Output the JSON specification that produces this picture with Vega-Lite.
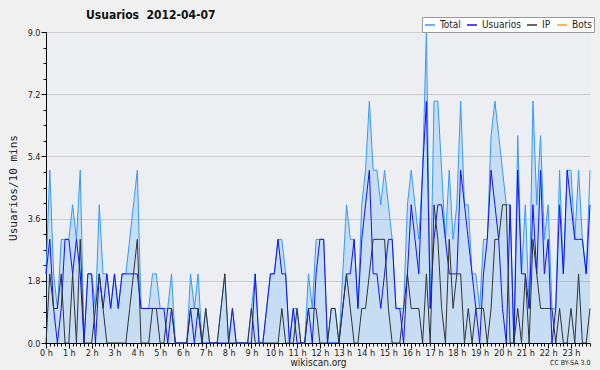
{
  "$schema": "https://vega.github.io/schema/vega-lite/v6.json",
  "width": 544,
  "height": 311,
  "autosize": {"type": "none"},
  "padding": {"left": 46, "top": 32, "right": 10, "bottom": 27},
  "background": "#f0f0f0",
  "config": {
    "view": {"fill": "#eceef1", "stroke": null},
    "font": "'DejaVu Sans Condensed', 'DejaVu Sans'",
    "axis": {"domainColor": "#000", "tickColor": "#000", "labelColor": "#222", "labelFontSize": 9, "titleColor": "#222", "titleFontWeight": "normal"}
  },
  "title": {"text": "Usuarios\u00a0 2012-04-07", "anchor": "start", "frame": "group", "dx": 40, "offset": -5, "fontSize": 12, "fontWeight": "bold", "color": "#111", "font": "'DejaVu Sans Condensed', 'DejaVu Sans'"},
  "data": {"values": [
    {"i":0,"Total":2,"Usuarios":2,"IP":0},{"i":1,"Total":5,"Usuarios":3,"IP":2},{"i":2,"Total":2,"Usuarios":1,"IP":1},{"i":3,"Total":1,"Usuarios":0,"IP":1},{"i":4,"Total":3,"Usuarios":1,"IP":2},{"i":5,"Total":3,"Usuarios":3,"IP":0},
    {"i":6,"Total":3,"Usuarios":3,"IP":0},{"i":7,"Total":4,"Usuarios":2,"IP":2},{"i":8,"Total":3,"Usuarios":3,"IP":0},{"i":9,"Total":5,"Usuarios":2,"IP":3},{"i":10,"Total":0,"Usuarios":0,"IP":0},{"i":11,"Total":2,"Usuarios":2,"IP":0},
    {"i":12,"Total":2,"Usuarios":2,"IP":0},{"i":13,"Total":1,"Usuarios":0,"IP":1},{"i":14,"Total":4,"Usuarios":2,"IP":2},{"i":15,"Total":2,"Usuarios":1,"IP":1},{"i":16,"Total":2,"Usuarios":2,"IP":0},{"i":17,"Total":1,"Usuarios":1,"IP":0},
    {"i":18,"Total":2,"Usuarios":2,"IP":0},{"i":19,"Total":1,"Usuarios":1,"IP":0},{"i":20,"Total":2,"Usuarios":2,"IP":0},{"i":21,"Total":2,"Usuarios":2,"IP":0},{"i":22,"Total":3,"Usuarios":2,"IP":1},{"i":23,"Total":4,"Usuarios":2,"IP":2},
    {"i":24,"Total":5,"Usuarios":2,"IP":3},{"i":25,"Total":1,"Usuarios":1,"IP":0},{"i":26,"Total":1,"Usuarios":1,"IP":0},{"i":27,"Total":1,"Usuarios":1,"IP":0},{"i":28,"Total":2,"Usuarios":1,"IP":1},{"i":29,"Total":2,"Usuarios":1,"IP":1},
    {"i":30,"Total":1,"Usuarios":1,"IP":0},{"i":31,"Total":1,"Usuarios":1,"IP":0},{"i":32,"Total":1,"Usuarios":0,"IP":1},{"i":33,"Total":2,"Usuarios":1,"IP":1},{"i":34,"Total":0,"Usuarios":0,"IP":0},{"i":35,"Total":0,"Usuarios":0,"IP":0},
    {"i":36,"Total":0,"Usuarios":0,"IP":0},{"i":37,"Total":0,"Usuarios":0,"IP":0},{"i":38,"Total":2,"Usuarios":1,"IP":1},{"i":39,"Total":1,"Usuarios":0,"IP":1},{"i":40,"Total":2,"Usuarios":1,"IP":1},{"i":41,"Total":0,"Usuarios":0,"IP":0},
    {"i":42,"Total":1,"Usuarios":0,"IP":1},{"i":43,"Total":0,"Usuarios":0,"IP":0},{"i":44,"Total":0,"Usuarios":0,"IP":0},{"i":45,"Total":0,"Usuarios":0,"IP":0},{"i":46,"Total":1,"Usuarios":0,"IP":1},{"i":47,"Total":2,"Usuarios":0,"IP":2},
    {"i":48,"Total":0,"Usuarios":0,"IP":0},{"i":49,"Total":1,"Usuarios":1,"IP":0},{"i":50,"Total":0,"Usuarios":0,"IP":0},{"i":51,"Total":0,"Usuarios":0,"IP":0},{"i":52,"Total":0,"Usuarios":0,"IP":0},{"i":53,"Total":0,"Usuarios":0,"IP":0},
    {"i":54,"Total":1,"Usuarios":0,"IP":1},{"i":55,"Total":2,"Usuarios":2,"IP":0},{"i":56,"Total":0,"Usuarios":0,"IP":0},{"i":57,"Total":0,"Usuarios":0,"IP":0},{"i":58,"Total":1,"Usuarios":1,"IP":0},{"i":59,"Total":2,"Usuarios":2,"IP":0},
    {"i":60,"Total":2,"Usuarios":2,"IP":0},{"i":61,"Total":3,"Usuarios":3,"IP":0},{"i":62,"Total":3,"Usuarios":2,"IP":1},{"i":63,"Total":2,"Usuarios":2,"IP":0},{"i":64,"Total":0,"Usuarios":0,"IP":0},{"i":65,"Total":1,"Usuarios":1,"IP":0},
    {"i":66,"Total":1,"Usuarios":0,"IP":1},{"i":67,"Total":0,"Usuarios":0,"IP":0},{"i":68,"Total":0,"Usuarios":0,"IP":0},{"i":69,"Total":2,"Usuarios":1,"IP":1},{"i":70,"Total":1,"Usuarios":0,"IP":1},{"i":71,"Total":3,"Usuarios":2,"IP":1},
    {"i":72,"Total":3,"Usuarios":3,"IP":0},{"i":73,"Total":3,"Usuarios":3,"IP":0},{"i":74,"Total":0,"Usuarios":0,"IP":0},{"i":75,"Total":1,"Usuarios":0,"IP":1},{"i":76,"Total":1,"Usuarios":0,"IP":1},{"i":77,"Total":0,"Usuarios":0,"IP":0},
    {"i":78,"Total":2,"Usuarios":1,"IP":1},{"i":79,"Total":4,"Usuarios":2,"IP":2},{"i":80,"Total":3,"Usuarios":2,"IP":1},{"i":81,"Total":3,"Usuarios":3,"IP":0},{"i":82,"Total":1,"Usuarios":1,"IP":0},{"i":83,"Total":4,"Usuarios":3,"IP":1},
    {"i":84,"Total":5,"Usuarios":4,"IP":1},{"i":85,"Total":7,"Usuarios":5,"IP":2},{"i":86,"Total":5,"Usuarios":2,"IP":3},{"i":87,"Total":5,"Usuarios":2,"IP":3},{"i":88,"Total":4,"Usuarios":1,"IP":3},{"i":89,"Total":5,"Usuarios":2,"IP":3},
    {"i":90,"Total":4,"Usuarios":3,"IP":1},{"i":91,"Total":3,"Usuarios":3,"IP":0},{"i":92,"Total":1,"Usuarios":1,"IP":0},{"i":93,"Total":1,"Usuarios":1,"IP":0},{"i":94,"Total":1,"Usuarios":0,"IP":1},{"i":95,"Total":4,"Usuarios":2,"IP":2},
    {"i":96,"Total":5,"Usuarios":4,"IP":1},{"i":97,"Total":4,"Usuarios":3,"IP":1},{"i":98,"Total":3,"Usuarios":2,"IP":1},{"i":99,"Total":5,"Usuarios":5,"IP":0},{"i":100,"Total":9,"Usuarios":7,"IP":2},{"i":101,"Total":1,"Usuarios":1,"IP":0},
    {"i":102,"Total":7,"Usuarios":3,"IP":4},{"i":103,"Total":7,"Usuarios":4,"IP":3},{"i":104,"Total":5,"Usuarios":4,"IP":1},{"i":105,"Total":3,"Usuarios":3,"IP":0},{"i":106,"Total":5,"Usuarios":2,"IP":3},{"i":107,"Total":3,"Usuarios":2,"IP":1},
    {"i":108,"Total":4,"Usuarios":2,"IP":2},{"i":109,"Total":7,"Usuarios":5,"IP":2},{"i":110,"Total":4,"Usuarios":4,"IP":0},{"i":111,"Total":4,"Usuarios":3,"IP":1},{"i":112,"Total":2,"Usuarios":2,"IP":0},{"i":113,"Total":2,"Usuarios":1,"IP":1},
    {"i":114,"Total":1,"Usuarios":0,"IP":1},{"i":115,"Total":3,"Usuarios":2,"IP":1},{"i":116,"Total":3,"Usuarios":3,"IP":0},{"i":117,"Total":6,"Usuarios":5,"IP":1},{"i":118,"Total":7,"Usuarios":4,"IP":3},{"i":119,"Total":6,"Usuarios":3,"IP":3},
    {"i":120,"Total":5,"Usuarios":1,"IP":4},{"i":121,"Total":4,"Usuarios":0,"IP":4},{"i":122,"Total":4,"Usuarios":4,"IP":0},{"i":123,"Total":0,"Usuarios":0,"IP":0},{"i":124,"Total":6,"Usuarios":5,"IP":1},{"i":125,"Total":2,"Usuarios":2,"IP":0},
    {"i":126,"Total":4,"Usuarios":2,"IP":2},{"i":127,"Total":1,"Usuarios":1,"IP":0},{"i":128,"Total":7,"Usuarios":4,"IP":3},{"i":129,"Total":4,"Usuarios":2,"IP":2},{"i":130,"Total":6,"Usuarios":5,"IP":1},{"i":131,"Total":3,"Usuarios":2,"IP":1},
    {"i":132,"Total":4,"Usuarios":3,"IP":1},{"i":133,"Total":1,"Usuarios":0,"IP":1},{"i":134,"Total":1,"Usuarios":1,"IP":0},{"i":135,"Total":5,"Usuarios":4,"IP":1},{"i":136,"Total":2,"Usuarios":2,"IP":0},{"i":137,"Total":5,"Usuarios":5,"IP":0},
    {"i":138,"Total":5,"Usuarios":4,"IP":1},{"i":139,"Total":3,"Usuarios":3,"IP":0},{"i":140,"Total":5,"Usuarios":3,"IP":2},{"i":141,"Total":3,"Usuarios":3,"IP":0},{"i":142,"Total":2,"Usuarios":2,"IP":0},{"i":143,"Total":5,"Usuarios":4,"IP":1}
  ]},
  "layer": [
    {
      "mark": {"type": "area", "color": "#3399ff", "opacity": 0.2},
      "encoding": {
        "x": {"field": "i", "type": "quantitative", "scale": {"domain": [0, 143], "nice": false, "zero": false},
              "axis": {"orient": "bottom", "values": [0,6,12,18,24,30,36,42,48,54,60,66,72,78,84,90,96,102,108,114,120,126,132,138],
                       "labelExpr": "(datum.value/6) + ' h'", "tickSize": 5, "labelPadding": 0, "grid": false,
                       "title": "wikiscan.org", "titleFontSize": 10, "titlePadding": 0, "labelFlush": false}},
        "y": {"field": "Total", "type": "quantitative", "scale": {"domain": [0, 9], "nice": false},
              "axis": {"orient": "left", "values": [0, 1.8, 3.6, 5.4, 7.2, 9], "format": ".1f", "tickSize": 5, "labelPadding": 1,
                       "grid": true, "gridColor": "#cccccc", "gridWidth": 1,
                       "title": "Usuarios/10 mins", "titleFont": "DejaVu Sans Mono", "titleFontSize": 11, "titlePadding": 9}}
      }
    },
    {
      "mark": {"type": "line", "strokeWidth": 1},
      "encoding": {
        "x": {"field": "i", "type": "quantitative", "axis": null},
        "y": {"field": "Total", "type": "quantitative", "axis": null},
        "color": {"datum": "Total", "type": "nominal",
                  "scale": {"domain": ["Total", "Usuarios", "IP", "Bots"], "range": ["#3399ff", "#1010ff", "#333333", "#ffa500"]},
                  "legend": {"orient": "none", "legendX": 376, "legendY": -15, "direction": "horizontal", "title": null,
                             "symbolType": "stroke", "symbolSize": 100, "symbolStrokeWidth": 1.5, "labelFontSize": 10, "labelColor": "#222",
                             "labelOffset": 4, "columnPadding": 3, "padding": 2, "fillColor": "#ffffff", "strokeColor": "#999999"}}
      }
    },
    {
      "mark": {"type": "line", "strokeWidth": 1},
      "encoding": {
        "x": {"field": "i", "type": "quantitative", "axis": null},
        "y": {"field": "Usuarios", "type": "quantitative", "axis": null},
        "color": {"datum": "Usuarios", "type": "nominal"}
      }
    },
    {
      "mark": {"type": "line", "strokeWidth": 1},
      "encoding": {
        "x": {"field": "i", "type": "quantitative", "axis": null},
        "y": {"field": "IP", "type": "quantitative", "axis": null},
        "color": {"datum": "IP", "type": "nominal"}
      }
    },
    {
      "mark": {"type": "point", "opacity": 0},
      "encoding": {
        "x": {"field": "i", "type": "quantitative",
              "axis": {"orient": "bottom", "tickCount": 143, "labels": false, "domain": false, "tickSize": 3, "grid": false,
                       "title": "CC BY-SA 3.0", "titleAnchor": "end", "titleFontSize": 7, "titlePadding": 12}},
        "y": {"field": "Total", "type": "quantitative",
              "axis": {"orient": "left", "values": [0.45,0.9,1.35,2.25,2.7,3.15,4.05,4.5,4.95,5.85,6.3,6.75,7.65,8.1,8.55], "labels": false, "domain": false, "tickSize": 3, "grid": false, "title": null}}
      }
    }
  ],
  "resolve": {"axis": {"x": "independent", "y": "independent"}}
}
